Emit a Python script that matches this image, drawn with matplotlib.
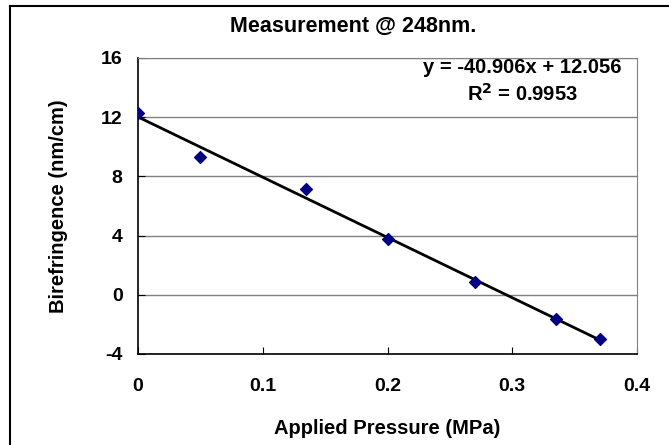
import numpy as np
import matplotlib
matplotlib.use("Agg")
import matplotlib.pyplot as plt
from matplotlib.lines import Line2D

plt.rcParams["font.family"] = ["Liberation Sans", "DejaVu Sans"]
plt.rcParams["font.weight"] = "bold"
plt.rcParams["axes.unicode_minus"] = False

pressure = [0.0, 0.05, 0.135, 0.2, 0.27, 0.335, 0.37]
birefringence = [12.3, 9.3, 7.15, 3.77, 0.86, -1.64, -2.99]
x_ticks = [0, 0.1, 0.2, 0.3, 0.4]
x_tick_labels = ["0", "0.1", "0.2", "0.3", "0.4"]
y_ticks = [-4, 0, 4, 8, 12, 16]
equation_text = "y = -40.906x + 12.056\nR$^2$ = 0.9953"

W, H = 669, 445
fig = plt.figure(figsize=(W / 100, H / 100), dpi=100)
ax = fig.add_axes([138 / W, 1 - 354 / H, (637 - 138) / W, (354 - 58) / H])

# outer chart frame (only left and top edges visible)
fig.add_artist(Line2D([10 / W, 10 / W], [0, 1 - 6 / H], transform=fig.transFigure, color="black", lw=1.5))
fig.add_artist(Line2D([10 / W, 1], [1 - 6 / H, 1 - 6 / H], transform=fig.transFigure, color="black", lw=1.5))

ax.scatter(pressure, birefringence, marker="D", s=36, color="#000080", zorder=3)

slope, intercept = np.polyfit(pressure, birefringence, 1)
xs = np.array([min(pressure), max(pressure)])
ax.plot(xs, slope * xs + intercept, color="black", lw=2, zorder=2)

ax.set_xlim(0, 0.4)
ax.set_ylim(-4, 16)
ax.set_xticks(x_ticks)
ax.set_xticklabels(x_tick_labels)
ax.set_yticks(y_ticks)
ax.grid(axis="y", color="#808080", lw=1)
ax.set_axisbelow(True)
ax.tick_params(direction="in", length=5, labelsize=14)
ax.tick_params(axis="x", pad=17)
ax.tick_params(axis="y", pad=11)

for side in ["top", "right"]:
    ax.spines[side].set_color("#808080")
for side in ["left", "bottom"]:
    ax.spines[side].set_color("black")
    ax.spines[side].set_linewidth(1.2)

ax.set_xlabel("Applied Pressure (MPa)", fontsize=14.5, fontweight="bold", va="center")
ax.set_ylabel("Birefringence (nm/cm)", fontsize=14.5, fontweight="bold", va="center")
ax.xaxis.set_label_coords(0.5, (354 - 428) / 296)
ax.yaxis.set_label_coords((58 - 138) / 499, 0.5)
fig.text(353 / W, 1 - 26 / H, "Measurement @ 248nm.", ha="center", va="center",
         fontsize=15.5, fontweight="bold")

ax.text(0.308, 14.41, equation_text, ha="center", va="center", fontsize=14.5,
        fontweight="bold", linespacing=1.3)

fig.savefig("out.png", dpi=100)
